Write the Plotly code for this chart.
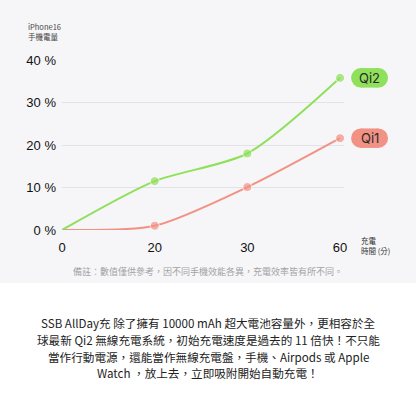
import plotly.graph_objects as go

# ---- data ----
categories = ["0", "20", "30", "60"]
qi2_values = [0, 11.5, 18.0, 35.8]
qi1_values = [0, 1.0, 10.1, 21.6]
y_ticks = [0, 10, 20, 30, 40]
series_names = ["Qi2", "Qi1"]
body_lines = [
    "SSB AllDay充 除了擁有 10000 mAh 超大電池容量外，更相容於全",
    "球最新 Qi2 無線充電系統，初始充電速度是過去的 11 倍快！不只能",
    "當作行動電源，還能當作無線充電盤，手機、Airpods 或 Apple",
    "Watch ，放上去，立即吸附開始自動充電！",
]

GREEN = "#8fe05a"
SALMON = "#f29285"
BG = "#f6f6f8"

W, H = 416, 404
L, R, T, B = 62, 72, 60, 174
pw = W - L - R
ph = H - T - B
BOT = T + ph  # pixel y of plot bottom
X_RANGE = [0, 3 + 4 / (pw / 3)]
Y_RANGE = [0, 40]


def py(pix):
    """pixel y (from top) -> paper y"""
    return (BOT - pix) / ph


def px(pix):
    return (pix - L) / pw


fig = go.Figure()

for name, vals, col in [("Qi1", qi1_values, SALMON), ("Qi2", qi2_values, GREEN)]:
    fig.add_trace(go.Scatter(
        x=list(range(len(categories))), y=vals, mode="lines+markers",
        line=dict(color=col, width=2, shape="spline", smoothing=0.75),
        marker=dict(color=col, size=[0] + [9] * (len(vals) - 1)),
        cliponaxis=False, showlegend=False, hoverinfo="skip", name=name,
    ))

# white lower band (paper bg is grey)
fig.add_shape(type="rect", xref="paper", yref="paper",
              x0=px(-5), x1=px(W + 5), y0=py(H + 5), y1=py(283),
              fillcolor="white", line=dict(width=0), layer="below")

# pill labels (rect + two circles, pixel-sized, anchored to the last point,
# paper-referenced so they are not clipped by the plot area)
last = len(categories) - 1
h = 19.5
r = h / 2
x0p, x1p = 11, 48
for name, vals, col in [("Qi2", qi2_values, GREEN), ("Qi1", qi1_values, SALMON)]:
    ax = (last - X_RANGE[0]) / (X_RANGE[1] - X_RANGE[0])
    ay = (vals[-1] - Y_RANGE[0]) / (Y_RANGE[1] - Y_RANGE[0])
    common = dict(xref="paper", yref="paper", xsizemode="pixel", ysizemode="pixel",
                  xanchor=ax, yanchor=ay, fillcolor=col,
                  line=dict(width=0), layer="above")
    fig.add_shape(type="rect", x0=x0p + r, x1=x1p - r, y0=-r, y1=r, **common)
    fig.add_shape(type="circle", x0=x0p, x1=x0p + h, y0=-r, y1=r, **common)
    fig.add_shape(type="circle", x0=x1p - h, x1=x1p, y0=-r, y1=r, **common)
    fig.add_annotation(x=last, y=vals[-1], xref="x", yref="y", text=name, showarrow=False,
                       xshift=(x0p + x1p) / 2, yshift=0,
                       font=dict(family="Inter", size=13, color="#2a2a2a"))

# axis titles
fig.add_annotation(xref="paper", yref="paper", x=px(26), y=py(19),
                   xanchor="left", yanchor="top", align="left", showarrow=False,
                   text="iPhone16<br>手機電量",
                   font=dict(family="Noto Sans CJK TC", size=7.5, color="#444"))
fig.add_annotation(xref="paper", yref="paper", x=px(359), y=py(245.5),
                   xanchor="left", yanchor="middle", align="left", showarrow=False,
                   text="充電<br>時間 (分)",
                   font=dict(family="Noto Sans CJK TC", size=7.5, color="#333"))

# note
fig.add_annotation(xref="paper", yref="paper", x=px(208), y=py(271.5),
                   xanchor="center", yanchor="middle", showarrow=False,
                   text="備註：數值僅供參考，因不同手機效能各異，充電效率皆有所不同。",
                   font=dict(family="Noto Sans CJK TC", size=9, color="#a3a3a3"))

# body text, one annotation per line
for i, line in enumerate(body_lines):
    fig.add_annotation(xref="paper", yref="paper", x=px(208), y=py(323 + i * 16.8),
                       xanchor="center", yanchor="middle", showarrow=False,
                       text=line,
                       font=dict(family="Noto Sans CJK TC", size=11.6, color="#222"))

fig.update_xaxes(range=X_RANGE, tickmode="array",
                 tickvals=list(range(len(categories))), ticktext=categories,
                 showgrid=False, zeroline=False, showline=False, ticks="",
                 ticklabelstandoff=8,
                 tickfont=dict(family="Liberation Sans", size=13, color="#111"))
fig.update_yaxes(range=Y_RANGE, tickmode="array", tickvals=y_ticks,
                 ticktext=[f"{v} %" for v in y_ticks],
                 showgrid=True, gridcolor="#e3e3e7", gridwidth=1, zeroline=False,
                 showline=False, ticks="", ticklabelstandoff=5,
                 tickfont=dict(family="Liberation Sans", size=13, color="#111"))

fig.update_layout(width=W, height=H, margin=dict(l=L, r=R, t=T, b=B, pad=0),
                  paper_bgcolor=BG, plot_bgcolor="rgba(0,0,0,0)")

fig.write_html("out.html")
